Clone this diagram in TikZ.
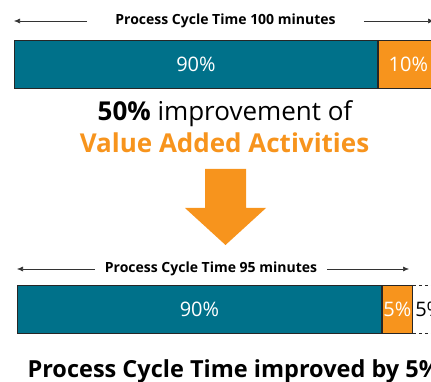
\documentclass[tikz,border=0pt]{standalone}
\usepackage{fontspec}
\setmainfont{Open Sans}
\usetikzlibrary{arrows.meta,positioning}

\definecolor{vateal}{RGB}{0,113,138}
\definecolor{vaorange}{RGB}{247,148,29}

\begin{document}
\begin{tikzpicture}[
      x=1pt, y=-1pt,
      bar/.style={
        rectangle,
        draw=black!85,
        line width=0.9pt,
        minimum height=48pt,
        inner sep=0pt,
        anchor=north west,
        text=white,
        font=\fontsize{20}{22}\selectfont
      },
      dimlabel/.style={
        inner ysep=0pt,
        font=\bfseries\fontsize{14}{16}\selectfont
      },
      dim/.style={
        draw=black!80,
        line width=0.6pt,
        -{Latex[length=6pt,width=5pt]}
      },
      node distance=0pt
    ]
    \clip (0,0) rectangle (431,382);
    \useasboundingbox (0,0) rectangle (431,382);

    % before: 100 minutes
    \node[dimlabel, inner xsep=28pt]
      (t100) at (225.5,21) {Process Cycle Time 100 minutes};
    \coordinate (t100l) at (14,21);
    \coordinate (t100r) at (434,21);
    \draw[dim] (t100.west) -- (t100l);
    \draw[dim] (t100.east) -- (t100r);

    \node[bar, fill=vateal, minimum width=363pt]
      (nva100) at (14,40) {90\%};
    \node[bar, fill=vaorange, minimum width=60pt, right=of nva100]
      (va100) {10\%};

    % message
    \node[font=\fontsize{26}{30}\selectfont, anchor=base]
      (msg) at (225,121) {\textbf{50\%} improvement of};
    \node[font=\bfseries\fontsize{26}{30}\selectfont, text=vaorange,
      anchor=base]
      (vaa) at (224.5,153) {Value Added Activities};

    \fill[vaorange] (205,169) -- (246,169) -- (246,208) -- (266,208)
      -- (225.5,245) -- (185,208) -- (205,208) -- cycle;

    % after: 95 minutes
    \node[dimlabel, inner xsep=10pt]
      (t95) at (211,269) {Process Cycle Time 95 minutes};
    \coordinate (t95l) at (17,269);
    \coordinate (t95r) at (409,269);
    \draw[dim] (t95.west) -- (t95l);
    \draw[dim] (t95.east) -- (t95r);

    \node[bar, fill=vateal, minimum width=364pt]
      (nva95) at (17,285) {90\%};
    \node[bar, fill=vaorange, minimum width=30pt, right=of nva95]
      (va95) {5\%};
    \node[bar, draw=none, text=black, minimum width=40pt, right=of va95,
      align=left, text width=40pt, inner xsep=2pt]
      (saved) {5\%};
    \draw[black!85, line width=0.9pt, dashed]
      (saved.north west) -- (saved.north east)
      (saved.south west) -- (saved.south east);

    \node[font=\bfseries\fontsize{23.5}{27}\selectfont, anchor=base west]
      (result) at (24,377) {Process Cycle Time improved by 5\%};
  \end{tikzpicture}
\end{document}
